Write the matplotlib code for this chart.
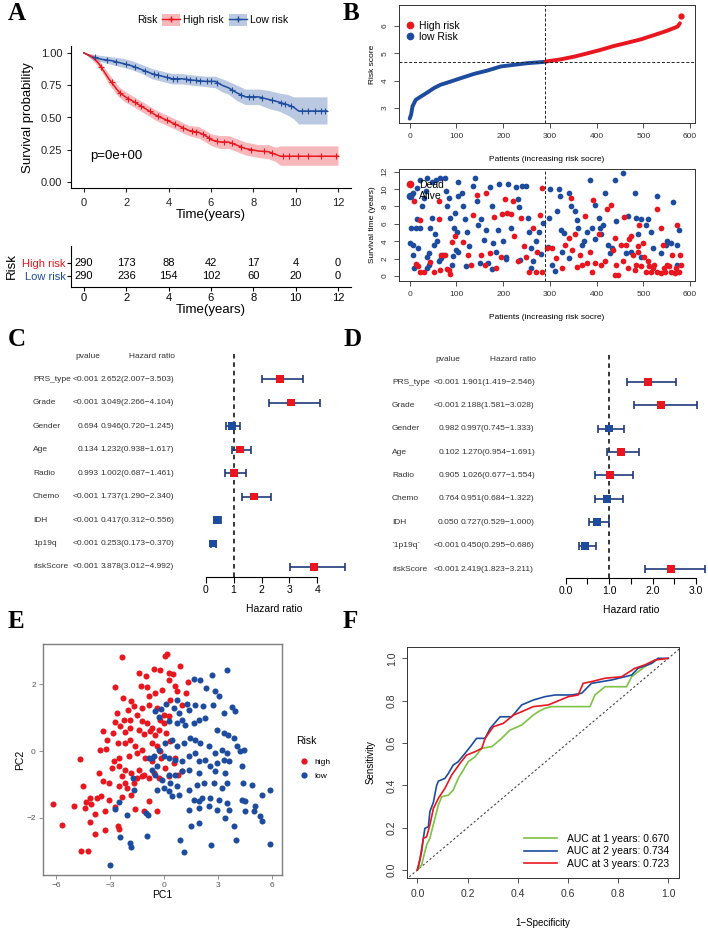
import numpy as np
import matplotlib
matplotlib.use('Agg')
import matplotlib.pyplot as plt
from matplotlib.patches import Patch
from matplotlib.lines import Line2D

plt.rcParams['font.family'] = ['Liberation Sans', 'DejaVu Sans']

RED = '#E8161E'
BLUE = '#1D4C9E'
NAVY = '#1F3A7A'

# ---- A: Kaplan-Meier
km_high_t = [0, 0.38, 0.69, 0.93, 1.17, 1.4, 1.64, 1.95, 2.27, 2.58, 2.98, 3.37, 3.76, 4.16, 4.55,
             4.94, 5.42, 5.73, 6.05, 6.44, 6.83, 7.15, 7.62, 8.25, 8.72, 9.04, 9.28, 12.0]
km_high_s = [1.0, 0.97, 0.92, 0.86, 0.80, 0.75, 0.70, 0.66, 0.63, 0.60, 0.56, 0.52, 0.49, 0.46, 0.43,
             0.40, 0.385, 0.36, 0.325, 0.31, 0.31, 0.29, 0.26, 0.24, 0.235, 0.215, 0.20, 0.20]
km_high_lo = [1.0, 0.95, 0.89, 0.83, 0.76, 0.71, 0.66, 0.62, 0.59, 0.56, 0.52, 0.48, 0.45, 0.42, 0.39,
              0.36, 0.34, 0.31, 0.28, 0.26, 0.26, 0.24, 0.21, 0.19, 0.18, 0.16, 0.13, 0.13]
km_high_hi = [1.0, 0.99, 0.95, 0.89, 0.84, 0.79, 0.74, 0.70, 0.67, 0.64, 0.60, 0.56, 0.53, 0.50, 0.47,
              0.44, 0.43, 0.40, 0.37, 0.36, 0.36, 0.34, 0.31, 0.29, 0.29, 0.27, 0.28, 0.28]
km_low_t = [0, 0.38, 0.85, 1.32, 1.8, 2.27, 2.74, 3.2, 3.69, 4.16, 4.63, 5.1, 5.73, 6.2, 6.52, 6.83,
            7.23, 7.62, 8.25, 8.72, 9.2, 9.6, 9.9, 10.14, 11.48]
km_low_s = [1.0, 0.97, 0.95, 0.94, 0.92, 0.90, 0.87, 0.84, 0.82, 0.80, 0.80, 0.79, 0.78, 0.78, 0.75,
            0.73, 0.69, 0.66, 0.66, 0.64, 0.62, 0.60, 0.58, 0.55, 0.55]
km_low_lo = [1.0, 0.95, 0.93, 0.91, 0.89, 0.87, 0.84, 0.80, 0.78, 0.76, 0.76, 0.75, 0.74, 0.73, 0.70,
             0.68, 0.63, 0.60, 0.60, 0.57, 0.55, 0.52, 0.49, 0.45, 0.45]
km_low_hi = [1.0, 0.99, 0.98, 0.97, 0.96, 0.94, 0.91, 0.88, 0.86, 0.84, 0.84, 0.83, 0.82, 0.82, 0.80,
             0.78, 0.75, 0.72, 0.72, 0.71, 0.69, 0.68, 0.66, 0.66, 0.66]
cens_high = [0.8, 1.3, 1.7, 2.1, 2.4, 2.7, 3.1, 3.5, 3.9, 4.3, 4.7, 5.1, 5.3, 5.6, 5.9, 6.3, 6.6, 7.0,
             7.4, 7.9, 8.5, 8.9, 9.4, 9.7, 10.1, 10.6, 11.2, 11.9]
cens_low = [0.5, 1.1, 1.5, 2.0, 2.4, 2.9, 3.3, 3.5, 3.9, 4.2, 4.4, 4.8, 5.0, 5.3, 5.5, 5.8, 6.0, 6.3,
            7.0, 7.4, 7.8, 8.0, 8.4, 8.9, 9.3, 9.5, 9.8, 10.3, 10.6, 10.9, 11.2, 11.4]
risk_times = [0, 2, 4, 6, 8, 10, 12]
n_high = [290, 173, 88, 42, 17, 4, 0]
n_low = [290, 236, 154, 102, 60, 20, 0]

# ---- B: risk score curve and survival status
score_low_p = [0, 3, 6, 13, 24, 38, 52, 66, 88, 109, 138, 166, 195, 223, 252, 290]
score_low_v = [2.61, 2.76, 3.06, 3.30, 3.42, 3.57, 3.73, 3.85, 3.97, 4.09, 4.25, 4.37, 4.52, 4.58, 4.64, 4.69]
score_high_p = [291, 323, 352, 380, 409, 437, 466, 494, 523, 551, 573, 578, 580]
score_high_v = [4.70, 4.78, 4.88, 5.00, 5.13, 5.27, 5.39, 5.51, 5.67, 5.83, 5.98, 6.10, 6.35]
cutoff_patient = 290
cutoff_score = 4.69

dead_p = [9, 21, 14, 23, 30, 44, 51, 63, 62, 68, 76, 80, 87, 83, 90, 97, 65, 18, 113, 125, 132, 136,
          143, 153, 161, 164, 171, 180, 185, 196, 198, 203, 208, 220, 217, 224, 231, 238, 245, 249,
          256, 263, 270, 278, 282, 284, 273, 294, 305, 312, 326, 333, 340, 346, 347, 354, 365, 368,
          375, 379, 386, 393, 396, 405, 410, 417, 423, 430, 439, 442, 446, 456, 458, 463, 467, 474,
          477, 484, 488, 491, 495, 498, 502, 509, 516, 523, 530, 537, 541, 544, 551, 558, 562, 569,
          572, 576, 579, 580, 512, 520, 530, 537, 546, 555, 567, 505, 489, 469, 453, 435, 358, 389,
          439, 481]
dead_y = [8.6, 6.4, 1.4, 0.4, 0.4, 1.6, 0.4, 6.5, 8.6, 2.4, 2.4, 0.8, 0.2, 0.7, 3.9, 4.6, 0.7, 1.1,
          3.9, 2.4, 1.3, 7.0, 9.3, 2.4, 1.3, 9.5, 2.7, 6.8, 0.9, 2.2, 7.1, 8.9, 7.2, 8.6, 7.1, 4.6,
          1.7, 6.7, 3.4, 2.2, 0.4, 5.5, 0.5, 7.0, 10.1, 0.5, 2.8, 3.2, 3.2, 2.1, 0.9, 3.6, 4.4, 9.0,
          3.0, 4.8, 2.4, 1.3, 6.9, 1.5, 2.8, 8.7, 1.5, 4.8, 1.3, 1.7, 7.7, 8.2, 4.4, 1.3, 0.1, 1.7,
          6.8, 3.6, 0.9, 4.6, 2.4, 1.3, 2.8, 5.9, 1.1, 3.8, 2.2, 1.7, 0.5, 1.3, 7.7, 5.5, 3.6, 0.9,
          1.3, 0.5, 2.4, 0.9, 5.9, 0.5, 2.4, 1.3, 1.1, 0.9, 0.5, 0.3, 0.5, 1.1, 0.3, 0.5, 3.4, 4.2,
          3.6, 3.0, 1.0, 0.5, 0.1, 0.7]
alive_p = [2, 1, 6, 9, 13, 16, 23, 27, 30, 34, 37, 41, 44, 48, 51, 55, 58, 62, 72, 76, 78, 80, 87,
           90, 94, 99, 103, 104, 2, 8, 16, 23, 57, 65, 48, 37, 83, 97, 101, 104, 36, 18, 7, 111, 115,
           118, 122, 127, 136, 139, 143, 146, 153, 158, 164, 168, 171, 175, 178, 185, 189, 192, 199,
           206, 210, 217, 227, 231, 233, 241, 249, 252, 256, 259, 263, 270, 277, 285, 301, 319, 322,
           324, 330, 340, 344, 358, 361, 368, 372, 379, 386, 389, 396, 404, 410, 414, 417, 425, 432,
           439, 442, 456, 463, 467, 481, 484, 488, 495, 506, 509, 516, 520, 530, 537, 548, 551, 558,
           564, 571, 576, 572, 298, 315, 354, 396, 407, 428, 474, 495, 340, 305, 326, 41, 66, 92,
           120, 150, 175, 205, 235, 260, 280, 295, 310]
alive_y = [5.5, 3.8, 2.4, 0.9, 5.5, 6.5, 5.5, 8.0, 9.0, 9.8, 2.2, 2.6, 5.5, 6.7, 3.6, 4.8, 4.0, 1.7,
           2.4, 11.3, 9.8, 8.0, 6.7, 1.3, 5.5, 3.0, 10.8, 9.2, 9.2, 9.6, 10.1, 11.0, 11.1, 11.3, 10.8,
           11.3, 9.0, 7.3, 5.1, 2.8, 0.9, 3.2, 3.6, 9.6, 8.0, 6.5, 5.1, 3.4, 10.4, 11.3, 8.6, 5.9,
           6.5, 4.1, 5.3, 1.5, 10.2, 8.0, 3.8, 2.8, 5.3, 10.6, 4.0, 2.2, 10.6, 5.5, 10.2, 8.8, 7.9,
           10.4, 10.4, 6.7, 5.1, 3.2, 1.7, 4.0, 5.1, 6.1, 10.0, 10.0, 9.2, 5.3, 5.0, 9.5, 8.0, 6.4,
           5.5, 3.6, 4.0, 5.1, 11.1, 5.5, 4.2, 6.7, 4.8, 5.9, 9.6, 3.6, 3.2, 11.0, 6.3, 11.9, 2.6,
           6.9, 9.6, 6.7, 4.8, 2.2, 5.9, 6.5, 5.1, 3.2, 9.2, 2.6, 3.6, 4.0, 3.8, 8.5, 3.6, 5.3, 1.3,
           6.7, 7.5, 7.5, 8.2, 5.5, 2.6, 2.8, 6.5, 2.1, 1.3, 2.8, 1.3, 2.1, 2.3, 1.1, 1.5, 0.8, 2.0,
           1.8, 0.9, 2.5, 3.3, 0.6]

# ---- C / D: forest plots
forest_vars_c = ['PRS_type', 'Grade', 'Gender', 'Age', 'Radio', 'Chemo', 'IDH', '1p19q', 'riskScore']
pval_c = ['<0.001', '<0.001', '0.694', '0.134', '0.993', '<0.001', '<0.001', '<0.001', '<0.001']
hr_c = [2.652, 3.049, 0.946, 1.232, 1.002, 1.737, 0.417, 0.253, 3.878]
hr_lo_c = [2.007, 2.266, 0.720, 0.938, 0.687, 1.290, 0.312, 0.173, 3.012]
hr_hi_c = [3.503, 4.104, 1.245, 1.617, 1.461, 2.340, 0.556, 0.370, 4.992]

forest_vars_d = ['PRS_type', 'Grade', 'Gender', 'Age', 'Radio', 'Chemo', 'IDH', '`1p19q`', 'riskScore']
pval_d = ['<0.001', '<0.001', '0.982', '0.102', '0.905', '0.764', '0.050', '<0.001', '<0.001']
hr_d = [1.901, 2.188, 0.997, 1.270, 1.026, 0.951, 0.727, 0.450, 2.419]
hr_lo_d = [1.419, 1.581, 0.745, 0.954, 0.677, 0.684, 0.529, 0.295, 1.823]
hr_hi_d = [2.546, 3.028, 1.333, 1.691, 1.554, 1.322, 1.000, 0.686, 3.211]

# ---- E: PCA
pc_high_x = [-2.33, 0.07, 0.17, -1.41, -1.0, -0.57, -0.2, 0.3, 0.48, 0.91, 1.31, -2.74, -2.28, -1.81,
             -1.3, -0.94, -0.85, -0.48, -0.11, 0.26, 0.63, 0.72, 1.22, 0.35, 1.0, -2.0, -1.69, -1.22,
             -0.81, -0.39, -0.02, 0.26, -2.61, -2.24, -2.43, -2.74, -1.91, -1.5, -1.22, -0.94, -0.67,
             -0.3, -0.02, -0.2, -3.39, -2.83, -2.19, -1.91, -1.41, -1.13, -0.76, -0.48, 0.13, -3.17,
             -3.57, -3.22, -2.56, -2.15, -1.87, -1.59, -1.22, -0.67, -0.39, -0.24, 0.35, -4.69, -2.8,
             -2.48, -1.96, -1.5, -1.04, -0.67, -0.15, -2.19, -2.52, -2.89, -1.81, -1.41, -1.13, -0.57,
             -3.63, -3.39, -3.07, -2.52, -2.06, -1.69, -1.22, -0.85, -0.3, 0.26, 0.78, 1.0, -4.5,
             -4.09, -3.72, -3.48, -4.33, -4.04, -1.81, -2.33, -3.07, -3.26, -2.74, -1.59, -1.13,
             -0.85, -0.39, -4.98, -6.17, -5.67, -4.37, -3.85, -4.09, -3.3, -2.56, -2.52, -3.81,
             -4.59, -4.24, -1.5, -2.33, 0.54, 0.63, 0.07, -2.15]
pc_high_y = [2.81, 2.84, 2.91, 2.34, 2.24, 2.47, 2.42, 2.34, 2.31, 2.54, 2.06, 1.91, 1.59, 1.49, 1.96,
             1.91, 1.64, 1.74, 1.84, 2.12, 1.94, 1.79, 1.74, 1.54, 1.39, 1.24, 1.34, 1.29, 1.39, 1.29,
             1.09, 1.06, 1.14, 0.94, 0.74, 0.86, 0.94, 1.09, 0.89, 0.84, 0.69, 0.64, 0.84, 0.94, 0.59,
             0.54, 0.56, 0.69, 0.62, 0.52, 0.59, 0.49, 0.54, 0.34, 0.04, 0.06, 0.24, 0.24, 0.34, 0.14,
             0.04, 0.24, 0.14, -0.01, 0.29, -0.24, -0.31, -0.21, -0.16, -0.06, -0.21, -0.31, -0.21,
             -0.56, -0.46, -0.51, -0.66, -0.56, -0.71, -0.66, -0.66, -0.89, -0.96, -1.06, -1.11,
             -0.96, -0.76, -0.81, -0.81, -0.76, -0.71, -0.61, -1.04, -1.41, -1.41, -1.36, -1.54,
             -1.59, -1.31, -1.38, -1.46, -1.81, -1.69, -1.74, -1.81, -1.51, -1.79, -1.66, -1.59,
             -2.21, -1.71, -1.88, -2.13, -2.36, -2.26, -2.33, -2.49, -2.99, -2.99, -0.81, -0.76,
             -0.36, -0.21, -0.51, -0.96]
pc_low_x = [3.5, 2.67, 1.65, 2.02, 2.33, 2.85, 3.04, 0.72, 1.28, 1.74, 2.19, 2.7, 3.78, 3.96, 3.31,
            1.37, 0.81, 0.54, 0.11, -0.15, -0.48, -0.3, 0.26, 0.72, 1.0, 1.19, 1.65, 1.93, 2.3, 2.94,
            3.31, 3.56, 3.87, 4.06, 4.43, 4.24, 3.5, 3.22, 2.85, 2.48, 2.02, 1.74, 1.46, 1.09, 0.72,
            0.44, 0.07, -0.3, -0.57, -0.85, -0.02, 0.26, 0.63, 1.0, 1.37, 1.74, 1.93, 2.3, 2.57,
            2.94, 3.31, 3.59, 4.33, 2.85, 3.41, 1.93, 1.37, 1.0, 0.63, 0.26, -0.11, -0.48, -0.67,
            0.35, 0.72, 0.26, 0.44, 0.81, 1.37, 1.83, 2.2, 2.76, 3.22, 3.5, 4.37, 4.89, 5.91, 5.44,
            4.33, 4.52, 5.07, 4.52, 3.5, 3.04, 2.57, 2.11, 1.93, 1.65, 1.37, 1.93, 2.48, 2.94, 3.41,
            3.59, 3.87, 4.98, 5.35, 5.44, 4.02, 2.63, 1.09, 0.87, -0.94, -1.91, -1.81, -2.43, -2.98,
            -2.7, -2.04, -1.0, -0.89, -1.74, -1.69, -2.48, -0.39, 5.87, 1.96, 1.52, 0.02, -0.39,
            -0.67]
pc_low_y = [2.44, 2.27, 2.17, 2.14, 1.89, 1.79, 1.64, 1.54, 1.41, 1.39, 1.36, 1.37, 1.32, 1.19, 1.14,
            1.24, 1.14, 1.29, 1.42, 1.26, 1.19, 1.02, 0.89, 0.84, 0.92, 0.79, 0.84, 0.94, 0.99, 0.62,
            0.54, 0.49, 0.39, 0.16, 0.04, -0.01, -0.06, 0.04, -0.06, 0.14, 0.24, 0.34, 0.39, 0.24,
            0.14, 0.34, 0.24, 0.04, -0.16, -0.21, -0.16, -0.21, -0.26, -0.31, -0.16, -0.06, -0.31,
            -0.26, -0.46, -0.36, -0.26, -0.31, -0.46, -0.61, -0.66, -0.66, -0.56, -0.61, -0.71,
            -0.71, -0.86, -0.71, -0.56, -0.96, -1.06, -1.21, -1.36, -1.31, -1.16, -1.01, -0.96,
            -0.96, -1.11, -0.96, -0.96, -1.01, -1.16, -1.31, -1.46, -1.51, -1.66, -1.81, -1.56,
            -1.46, -1.41, -1.41, -1.51, -1.46, -1.76, -1.71, -1.66, -1.76, -2.01, -1.76, -2.26,
            -1.81, -1.96, -2.11, -2.68, -2.81, -3.04, -2.66, -2.56, -2.76, -2.88, -2.59, -3.41,
            -1.73, -1.91, -1.86, -1.91, -0.81, -1.16, -1.54, -1.16, -2.78, -2.16, -2.26, -1.11,
            -0.44, -0.21]

# ---- F: time-dependent ROC
roc1_fpr = [0, 0.017, 0.03, 0.037, 0.05, 0.07, 0.084, 0.097, 0.124, 0.143, 0.163, 0.183, 0.203, 0.23,
            0.257, 0.297, 0.336, 0.369, 0.416, 0.462, 0.482, 0.509, 0.535, 0.688, 0.708, 0.748,
            0.834, 0.854, 0.907, 0.94, 0.96]
roc1_tpr = [0, 0.024, 0.087, 0.118, 0.15, 0.244, 0.307, 0.346, 0.354, 0.378, 0.433, 0.472, 0.512,
            0.535, 0.575, 0.583, 0.622, 0.661, 0.685, 0.732, 0.748, 0.764, 0.772, 0.772, 0.827,
            0.866, 0.866, 0.913, 0.961, 0.984, 1.0]
roc2_fpr = [0, 0.007, 0.017, 0.024, 0.03, 0.044, 0.05, 0.064, 0.077, 0.084, 0.11, 0.124, 0.143, 0.163,
            0.19, 0.216, 0.236, 0.27, 0.29, 0.33, 0.376, 0.416, 0.462, 0.509, 0.549, 0.615, 0.655,
            0.694, 0.775, 0.854, 0.88, 0.934, 0.96, 1.0]
roc2_tpr = [0, 0.03, 0.087, 0.15, 0.197, 0.205, 0.276, 0.32, 0.40, 0.42, 0.433, 0.457, 0.496, 0.512,
            0.551, 0.59, 0.622, 0.622, 0.669, 0.724, 0.724, 0.78, 0.803, 0.819, 0.827, 0.827, 0.835,
            0.882, 0.898, 0.921, 0.953, 0.976, 1.0, 1.0]
roc3_fpr = [0, 0.011, 0.024, 0.037, 0.05, 0.064, 0.084, 0.11, 0.137, 0.17, 0.196, 0.23, 0.257, 0.27,
            0.303, 0.343, 0.383, 0.416, 0.462, 0.522, 0.602, 0.641, 0.661, 0.694, 0.748, 0.814,
            0.867, 0.907, 0.947, 1.0]
roc3_tpr = [0, 0.055, 0.15, 0.157, 0.213, 0.291, 0.339, 0.386, 0.449, 0.504, 0.543, 0.559, 0.575,
            0.622, 0.677, 0.693, 0.732, 0.748, 0.772, 0.78, 0.819, 0.827, 0.882, 0.89, 0.906, 0.913,
            0.953, 0.969, 0.992, 1.0]
roc_labels = ['AUC at 1 years: 0.670', 'AUC at 2 years: 0.734', 'AUC at 3 years: 0.723']

W, H = 708, 938
fig = plt.figure(figsize=(W / 100, H / 100), dpi=100)


def box(l, t, r, b):
    return fig.add_axes([l / W, 1 - b / H, (r - l) / W, (b - t) / H])


def ftext(x, y, s, **kw):
    fig.text(x / W, 1 - y / H, s, **kw)


def rbase(ax, fs=6):
    # R base graphics look
    for s in ax.spines.values():
        s.set_linewidth(0.7)
        s.set_color('#333333')
    ax.tick_params(direction='out', length=3.5, width=0.6, labelsize=fs, pad=4, colors='#333333')
    for lab in ax.get_yticklabels():
        lab.set_rotation(90)
        lab.set_va('center')


# panel letters
for letter, x, y in [('A', 8, 13), ('B', 343, 13), ('C', 8, 339), ('D', 343, 339),
                     ('E', 8, 622), ('F', 343, 622)]:
    ftext(x, y, letter, family='Liberation Serif', weight='bold', fontsize=18, va='center')

# ---------------- A
ax = box(71.3, 46.5, 350.7, 188.5)
ax.fill_between(km_low_t, km_low_lo, km_low_hi, color=BLUE, alpha=0.3, lw=0)
ax.fill_between(km_high_t, km_high_lo, km_high_hi, color=RED, alpha=0.3, lw=0)
ax.plot(km_low_t, km_low_s, color=BLUE, lw=1.1)
ax.plot(km_high_t, km_high_s, color=RED, lw=1.1)
ax.plot(cens_low, np.interp(cens_low, km_low_t, km_low_s), '+', color=BLUE, ms=4, mew=0.8)
ax.plot(cens_high, np.interp(cens_high, km_high_t, km_high_s), '+', color=RED, ms=4, mew=0.8)
ax.text(0.3, 0.2, 'p=0e+00', fontsize=9.5, va='center')
ax.set_xlim(-0.6, 12.6)
ax.set_ylim(-0.05, 1.05)
ax.set_xticks(risk_times)
ax.set_yticks([0, 0.25, 0.5, 0.75, 1.0])
ax.set_yticklabels(['0.00', '0.25', '0.50', '0.75', '1.00'])
ax.spines[['top', 'right']].set_visible(False)
ax.tick_params(labelsize=8, length=3, colors='#222222', labelcolor='#222222')
ax.set_ylabel('Survival probability', fontsize=9.5, labelpad=5)
ax.set_xlabel('Time(years)', fontsize=9.5, labelpad=1)

ftext(137, 20, 'Risk', fontsize=7.5, va='center')
handles = [(Patch(facecolor=RED, alpha=0.3), Line2D([], [], color=RED, marker='+', lw=1, ms=4)),
           (Patch(facecolor=BLUE, alpha=0.3), Line2D([], [], color=BLUE, marker='+', lw=1, ms=4))]
fig.legend(handles, ['High risk', 'Low risk'], ncol=2, loc='center left',
           bbox_to_anchor=(157 / W, 1 - 20 / H), frameon=False, fontsize=7.5,
           handlelength=1.7, handleheight=1.3, handletextpad=0.3, columnspacing=0.5, borderpad=0)

at = box(71.3, 246, 350.7, 287)
for t, nh, nl in zip(risk_times, n_high, n_low):
    at.text(t, 1, str(nh), ha='center', va='center', fontsize=8)
    at.text(t, 0, str(nl), ha='center', va='center', fontsize=8)
at.set_xlim(-0.6, 12.6)
at.set_ylim(-0.79, 2.21)
at.set_xticks(risk_times)
at.set_yticks([1, 0])
at.set_yticklabels(['High risk', 'Low risk'])
at.get_yticklabels()[0].set_color(RED)
at.get_yticklabels()[1].set_color(BLUE)
at.spines[['top', 'right']].set_visible(False)
at.tick_params(labelsize=8, length=3, pad=1)
at.set_ylabel('Risk', fontsize=9.5, labelpad=3)
at.set_xlabel('Time(years)', fontsize=9.5, labelpad=1)

# ---------------- B top
bt = box(399, 5, 695, 123)
bt.plot(score_low_p, score_low_v, color=BLUE, lw=2.8, solid_capstyle='round')
bt.plot(score_high_p[:-1], score_high_v[:-1], color=RED, lw=2.8, solid_capstyle='round')
bt.plot(score_high_p[-1:], score_high_v[-1:], 'o', color=RED, ms=3.5)
bt.axhline(cutoff_score, color='#222222', ls=(0, (3, 2)), lw=0.7)
bt.axvline(cutoff_patient, color='#222222', ls=(0, (3, 2)), lw=0.7)
bt.set_xlim(-22.9, 610.3)
bt.set_ylim(2.45, 6.77)
bt.set_xticks(range(0, 601, 100))
bt.set_yticks([3, 4, 5, 6])
rbase(bt)
bt.set_ylabel('Risk score', fontsize=6, labelpad=4)
bt.set_xlabel('Patients (increasing risk socre)', fontsize=6, labelpad=11)
bt.legend([Line2D([], [], ls='', marker='o', color=RED, ms=4.5),
           Line2D([], [], ls='', marker='o', color=BLUE, ms=4.5)], ['High risk', 'low Risk'],
          loc='upper left', bbox_to_anchor=(0.0, 0.93), frameon=False, fontsize=7.5,
          handlelength=0.8, handletextpad=0.4, labelspacing=0.15, borderaxespad=0.3)

# ---------------- B bottom
bb = box(399, 169, 695, 281)
bb.scatter(alive_p, alive_y, s=17, color=BLUE, lw=0)
bb.scatter(dead_p, dead_y, s=17, color=RED, lw=0)
bb.axvline(cutoff_patient, color='#222222', ls=(0, (3, 2)), lw=0.7)
bb.set_xlim(-22.9, 610.3)
bb.set_ylim(-0.58, 12.31)
bb.set_xticks(range(0, 601, 100))
bb.set_yticks(range(0, 13, 2))
rbase(bb)
bb.set_ylabel('Survival time (years)', fontsize=6, labelpad=4)
bb.set_xlabel('Patients (increasing risk socre)', fontsize=6, labelpad=11)
bb.legend([Line2D([], [], ls='', marker='o', color=RED, ms=4.5),
           Line2D([], [], ls='', marker='o', color=BLUE, ms=4.5)], ['Dead', 'Alive'],
          loc='upper left', bbox_to_anchor=(0.0, 0.97), frameon=False, fontsize=7.5,
          handlelength=0.8, handletextpad=0.4, labelspacing=0.15, borderaxespad=0.3)


# ---------------- C / D forest plots
def forest(ax_box, xlim, ylim, vline_top, ticks, minor, names, pv, hr, lo, hi,
           x_name, x_pv, x_hr, y_rows, y_head, x_hpv, x_hhr):
    fa = box(*ax_box)
    ypos = np.arange(len(names), 0, -1)
    fa.plot([1, 1], [ylim[0], vline_top], color='black', ls=(0, (3, 2.5)), lw=1.1)
    fa.errorbar(hr, ypos, xerr=[np.array(hr) - np.array(lo), np.array(hi) - np.array(hr)],
                fmt='none', ecolor=NAVY, elinewidth=1.2, capsize=3, capthick=1.2)
    cols = [RED if h > 1 else BLUE for h in hr]
    fa.scatter(hr, ypos, marker='s', s=32, c=cols, zorder=3, lw=0)
    fa.set_xlim(*xlim)
    fa.set_ylim(*ylim)
    fa.spines[['top', 'right', 'left']].set_visible(False)
    fa.spines['bottom'].set_bounds(ticks[0], ticks[-1])
    fa.spines['bottom'].set_linewidth(0.8)
    fa.set_yticks([])
    fa.set_xticks(ticks)
    if minor:
        fa.set_xticks(minor, minor=True)
        fa.set_xticklabels(['%.1f' % t for t in ticks])
    fa.tick_params(axis='x', which='both', direction='out', length=4, width=0.8, labelsize=7.5, pad=2)
    fa.set_xlabel('Hazard ratio', fontsize=7.5, labelpad=6)
    for i, (n, p, h, l, u) in enumerate(zip(names, pv, hr, lo, hi)):
        y = y_rows[0] + i * (y_rows[1] - y_rows[0]) / (len(names) - 1)
        ftext(x_name, y, n, fontsize=6, va='center', color='#333333')
        ftext(x_pv, y, p, fontsize=6, va='center', ha='right', color='#333333')
        ftext(x_hr, y, '%.3f(%.3f\u2212%.3f)' % (h, l, u), fontsize=6, va='center', color='#333333')
    ftext(x_hpv, y_head, 'pvalue', fontsize=6, va='center', ha='center', color='#333333')
    ftext(x_hhr, y_head, 'Hazard ratio', fontsize=6, va='center', ha='center', color='#333333')


forest((195, 345, 354, 577), ((195 - 205.7) / 27.9, (354 - 205.7) / 27.9), (0.574, 10.45), 10.15,
       [0, 1, 2, 3, 4], None, forest_vars_c, pval_c, hr_c, hr_lo_c, hr_hi_c,
       33, 99, 100.5, (379, 567), 356, 88, 152)
forest((555, 345, 708, 578), ((555 - 565.7) / 43.5, (708 - 565.7) / 43.5), (0.615, 10.57), 10.23,
       [0.0, 1.0, 2.0, 3.0], [0.5, 1.5, 2.5], forest_vars_d, pval_d, hr_d, hr_lo_d, hr_hi_d,
       392, 459.5, 461, (382, 569), 359, 448, 513)

# ---------------- E PCA
ea = box(42.7, 644, 281.7, 875)
ea.scatter(pc_high_x, pc_high_y, s=19, color=RED, lw=0)
ea.scatter(pc_low_x, pc_low_y, s=19, color=BLUE, lw=0)
ea.set_xlim(-6.74, 6.54)
ea.set_ylim(-3.72, 3.21)
ea.set_xticks([-6, -3, 0, 3, 6])
ea.set_yticks([-2, 0, 2])
for s in ea.spines.values():
    s.set_color('#7F7F7F')
    s.set_linewidth(1.0)
ea.tick_params(length=3, width=0.6, color='#7F7F7F', labelcolor='#555555', labelsize=6, pad=2)
ea.set_xlabel('PC1', fontsize=7.5, labelpad=1)
ea.set_ylabel('PC2', fontsize=7.5, labelpad=1)
ftext(296, 741, 'Risk', fontsize=7.5, va='center')
ea.legend([Line2D([], [], ls='', marker='o', color=RED, ms=3.5),
           Line2D([], [], ls='', marker='o', color=BLUE, ms=3.5)], ['high', 'low'],
          loc='center left', bbox_to_anchor=(1.06, 0.458), frameon=False, fontsize=6,
          handlelength=1.2, handletextpad=0.6, labelspacing=0.7, borderaxespad=0)

# ---------------- F ROC
fa = box(407.3, 646.7, 679, 878.3)
fa.plot([-0.1, 1.1], [-0.1, 1.1], color='#444444', ls=(0, (2, 2)), lw=0.8)
fa.plot(roc1_fpr, roc1_tpr, color='#7CC243', lw=1.2, label=roc_labels[0])
fa.plot(roc2_fpr, roc2_tpr, color=BLUE, lw=1.2, label=roc_labels[1])
fa.plot(roc3_fpr, roc3_tpr, color=RED, lw=1.2, label=roc_labels[2])
fa.set_xlim(-0.04, 1.043)
fa.set_ylim(-0.039, 1.055)
fa.set_xticks(np.arange(0, 1.01, 0.2))
fa.set_yticks(np.arange(0, 1.01, 0.2))
fa.set_xticklabels(['%.1f' % v for v in np.arange(0, 1.01, 0.2)])
fa.set_yticklabels(['%.1f' % v for v in np.arange(0, 1.01, 0.2)])
rbase(fa, fs=7.5)
fa.set_xlabel('1\u2212Specificity', fontsize=7, labelpad=14)
fa.set_ylabel('Sensitivity', fontsize=7, labelpad=8)
fa.legend(loc='lower right', frameon=False, fontsize=7.5, handlelength=3.2, handletextpad=1.0,
          labelspacing=0.25, borderaxespad=0.5)

fig.savefig('out.png', dpi=100)
